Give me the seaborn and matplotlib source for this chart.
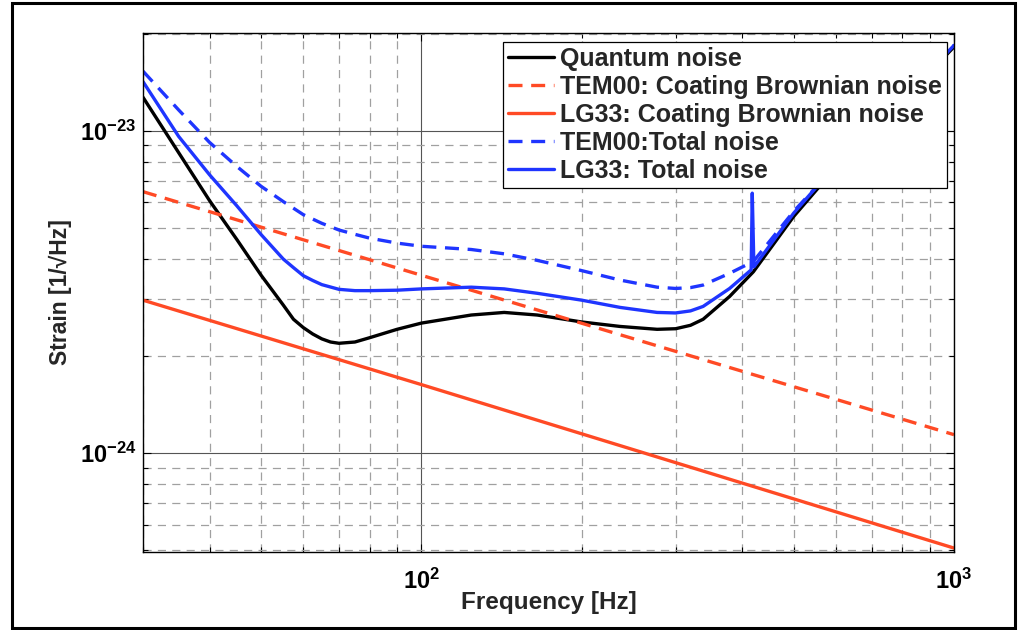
import matplotlib
matplotlib.use("Agg")
import matplotlib.pyplot as plt
import seaborn as sns
import numpy as np
from matplotlib.patches import Rectangle
from matplotlib.ticker import FixedLocator, NullFormatter, LogFormatterSciNotation

# ---------------- data ----------------
freq_quantum = [30, 35, 40, 45, 50, 55, 57.5, 60, 62.5, 65, 67.5, 70, 75, 80,
                90, 100, 124, 143, 165, 200, 236, 277, 300, 320, 338, 379, 420,
                500, 567, 600, 700, 800, 1000]
quantum_noise = [1.27e-23, 8.55e-24, 6.07e-24, 4.60e-24, 3.56e-24, 2.88e-24,
                 2.60e-24, 2.45e-24, 2.34e-24, 2.26e-24, 2.21e-24, 2.19e-24,
                 2.21e-24, 2.28e-24, 2.42e-24, 2.53e-24, 2.68e-24, 2.73e-24,
                 2.68e-24, 2.55e-24, 2.47e-24, 2.42e-24, 2.43e-24, 2.49e-24,
                 2.60e-24, 3.06e-24, 3.65e-24, 5.42e-24, 6.90e-24, 7.60e-24,
                 9.90e-24, 1.24e-23, 1.82e-23]

freq_tem00_total = [30, 35, 40, 45, 50, 55, 60, 65, 70, 75, 80, 90, 100, 124,
                    143, 165, 200, 236, 277, 300, 320, 338, 379, 420, 500, 567,
                    600, 700, 800, 1000]
tem00_total = [1.53e-23, 1.16e-23, 9.20e-24, 7.75e-24, 6.72e-24, 6.03e-24,
               5.49e-24, 5.16e-24, 4.92e-24, 4.77e-24, 4.64e-24, 4.48e-24,
               4.38e-24, 4.28e-24, 4.15e-24, 3.96e-24, 3.68e-24, 3.44e-24,
               3.27e-24, 3.24e-24, 3.26e-24, 3.32e-24, 3.61e-24, 3.93e-24,
               5.62e-24, 7.04e-24, 7.78e-24, 1.00e-23, 1.25e-23, 1.84e-23]

freq_lg33_total = [30, 35, 40, 45, 50, 55, 57.5, 60, 62.5, 65, 70, 75, 80, 90,
                   100, 124, 143, 165, 200, 236, 277, 300, 320, 338, 379, 416,
                   418, 421, 500, 567, 600, 700, 800, 1000]
lg33_total = [1.42e-23, 9.60e-24, 7.30e-24, 5.85e-24, 4.76e-24, 4.00e-24,
              3.76e-24, 3.55e-24, 3.43e-24, 3.33e-24, 3.22e-24, 3.19e-24,
              3.19e-24, 3.20e-24, 3.23e-24, 3.27e-24, 3.23e-24, 3.13e-24,
              2.98e-24, 2.83e-24, 2.73e-24, 2.72e-24, 2.76e-24, 2.85e-24,
              3.24e-24, 3.70e-24, 6.40e-24, 3.78e-24, 5.55e-24, 7.04e-24,
              7.75e-24, 1.00e-23, 1.25e-23, 1.84e-23]

freq_coating = [30, 100, 1000]
tem00_coating = [6.47e-24, 3.56e-24, 1.14e-24]
lg33_coating = [2.98e-24, 1.63e-24, 5.07e-25]

labels = ["Quantum noise", "TEM00: Coating Brownian noise",
          "LG33: Coating Brownian noise", "TEM00:Total noise",
          "LG33: Total noise"]

x_label = "Frequency [Hz]"
y_label = "Strain [1/\u221aHz]"

x_major = [100, 1000]
y_major = [1e-24, 1e-23]

# ---------------- style ----------------
sns.set_style("ticks")
plt.rcParams['font.family'] = ['Liberation Sans', 'DejaVu Sans']
plt.rcParams['font.weight'] = 'bold'
plt.rcParams['mathtext.fontset'] = 'custom'
plt.rcParams['mathtext.rm'] = 'Liberation Sans:bold'
plt.rcParams['mathtext.bf'] = 'Liberation Sans:bold'
plt.rcParams['mathtext.default'] = 'rm'

BLACK = "#000000"
ORANGE = "#FF4A25"
BLUE = "#1F35FF"

W, H = 1024, 630
fig = plt.figure(figsize=(W / 100, H / 100), dpi=100)
ax = fig.add_axes([143 / W, 1 - 552 / H, (954 - 143) / W, (552 - 33) / H])

lw = 2.4
dash = (0, (4.2, 2.6))
sns.lineplot(x=freq_quantum, y=quantum_noise, ax=ax, color=BLACK, lw=lw,
             label=labels[0], sort=False, estimator=None)
sns.lineplot(x=freq_coating, y=tem00_coating, ax=ax, color=ORANGE, lw=lw,
             linestyle=dash, label=labels[1], sort=False, estimator=None)
sns.lineplot(x=freq_coating, y=lg33_coating, ax=ax, color=ORANGE, lw=lw,
             label=labels[2], sort=False, estimator=None)
sns.lineplot(x=freq_tem00_total, y=tem00_total, ax=ax, color=BLUE, lw=lw,
             linestyle=dash, label=labels[3], sort=False, estimator=None)
sns.lineplot(x=freq_lg33_total, y=lg33_total, ax=ax, color=BLUE, lw=lw,
             label=labels[4], sort=False, estimator=None)
for line in ax.get_lines():
    line.set_solid_joinstyle('round')
    line.set_dash_joinstyle('round')

ax.set_xscale('log')
ax.set_yscale('log')
ax.set_xlim(30, 1000)
ax.set_ylim(4.93e-25, 2.01e-23)

x_minor = [m * d for d in (10, 100) for m in range(2, 10) if 30 <= m * d <= 1000]
y_minor = [m * d for d in (1e-25, 1e-24, 1e-23) for m in range(2, 10)
           if 4.93e-25 <= m * d <= 2.01e-23]
ax.xaxis.set_major_locator(FixedLocator(x_major))
ax.xaxis.set_minor_locator(FixedLocator(x_minor))
ax.yaxis.set_major_locator(FixedLocator(y_major))
ax.yaxis.set_minor_locator(FixedLocator(y_minor))
ax.xaxis.set_minor_formatter(NullFormatter())
ax.yaxis.set_minor_formatter(NullFormatter())
ax.xaxis.set_major_formatter(LogFormatterSciNotation())
ax.yaxis.set_major_formatter(LogFormatterSciNotation())

ax.set_axisbelow(True)
ax.grid(which='major', color='#555555', lw=0.8, ls='-')
ax.grid(which='minor', color='#a0a0a0', lw=0.9, ls=(0, (6.5, 5)))

ax.tick_params(which='both', direction='in', top=True, right=True,
               colors='black', labelsize=17)
ax.tick_params(which='major', length=6, width=0.8, pad=5)
ax.tick_params(which='minor', length=3.5, width=0.8)
ax.tick_params(axis='x', which='major', pad=12)
for s in ax.spines.values():
    s.set_color('black')
    s.set_linewidth(1.0)

ax.set_xlabel(x_label, fontsize=17.5, fontweight='bold')
ax.set_ylabel(y_label, fontsize=16.5, fontweight='bold')
ax.xaxis.set_label_coords(0.5, -0.075)
ax.yaxis.set_label_coords(-0.087, 0.5)

leg = ax.legend(loc='upper right', bbox_to_anchor=(0.9914, 0.9827),
                borderaxespad=0, fancybox=False, framealpha=1,
                edgecolor='black', prop={'size': 18, 'weight': 'bold'},
                labelspacing=0.16, handlelength=1.85, handletextpad=0.25,
                borderpad=0.2)
leg.get_frame().set_linewidth(0.9)

# outer frame around the figure
fig.patches.append(Rectangle((12 / W, 1 - 628 / H), (1015 - 12) / W,
                             (628 - 3) / H, transform=fig.transFigure,
                             fill=False, edgecolor='black', lw=2.2))

fig.savefig("out.png", dpi=100)
